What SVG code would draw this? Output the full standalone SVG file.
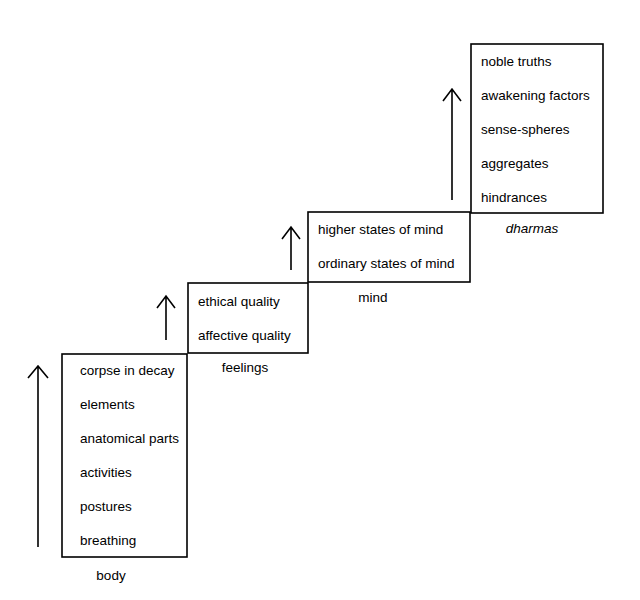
<svg xmlns="http://www.w3.org/2000/svg" width="640" height="600" viewBox="0 0 640 600">
<style>
.b{fill:none;stroke:#000;stroke-width:1.6}
.t{font-family:"Liberation Sans",Arial,sans-serif;font-size:13.5px;fill:#000}
.a{fill:none;stroke:#000;stroke-width:1.6}
</style>
<rect width="640" height="600" fill="#fff"/>
<g id="connectors">
<path class="a" d="M38 547V366M28 378L38 366L48 378"/>
<path class="a" d="M166 340V296M157 308L166 296L175 308"/>
<path class="a" d="M291 270V227M282 239L291 227L300 239"/>
<path class="a" d="M452 200V89M443 101L452 89L461 101"/>
</g>
<g id="body">
<rect class="b" x="62" y="354" width="125" height="203"/>
<text class="t" x="80" y="375">corpse in decay</text>
<text class="t" x="80" y="409">elements</text>
<text class="t" x="80" y="443">anatomical parts</text>
<text class="t" x="80" y="477">activities</text>
<text class="t" x="80" y="511">postures</text>
<text class="t" x="80" y="545">breathing</text>
<text class="t" x="111" y="580" text-anchor="middle">body</text>
</g>
<g id="feelings">
<rect class="b" x="188" y="283" width="120" height="70"/>
<text class="t" x="198" y="306">ethical quality</text>
<text class="t" x="198" y="340">affective quality</text>
<text class="t" x="245" y="372" text-anchor="middle">feelings</text>
</g>
<g id="mind">
<rect class="b" x="308" y="212" width="162" height="70"/>
<text class="t" x="318" y="234">higher states of mind</text>
<text class="t" x="318" y="268">ordinary states of mind</text>
<text class="t" x="373" y="302" text-anchor="middle">mind</text>
</g>
<g id="dharmas">
<rect class="b" x="471" y="44" width="132" height="169"/>
<text class="t" x="481" y="66">noble truths</text>
<text class="t" x="481" y="100">awakening factors</text>
<text class="t" x="481" y="134">sense-spheres</text>
<text class="t" x="481" y="168">aggregates</text>
<text class="t" x="481" y="202">hindrances</text>
<text class="t" x="532" y="233" text-anchor="middle" font-style="italic">dharmas</text>
</g>
</svg>
